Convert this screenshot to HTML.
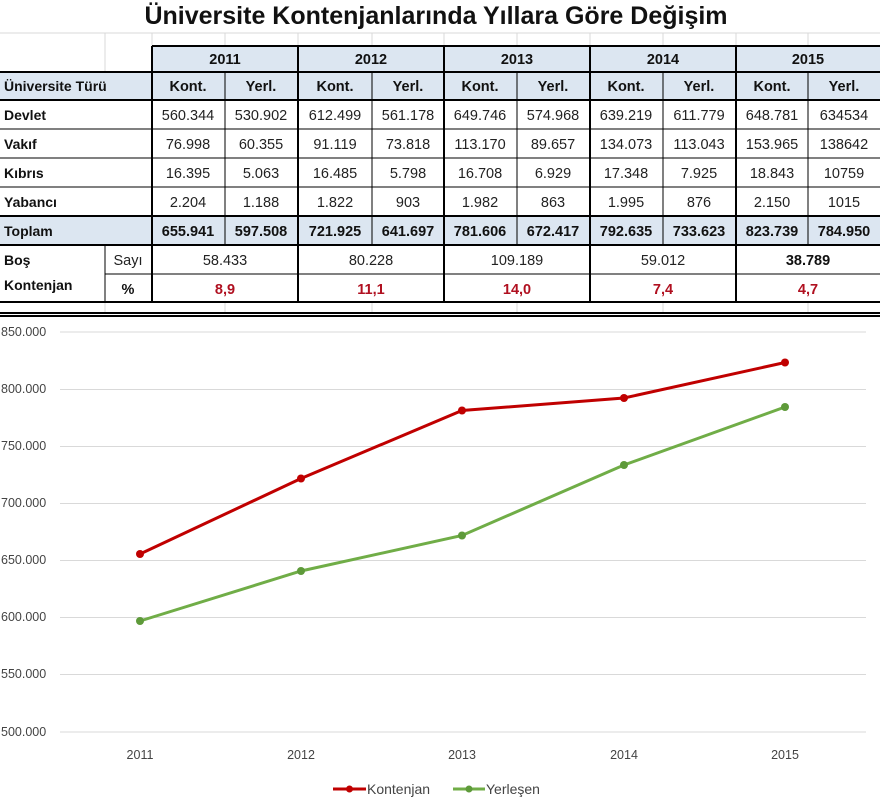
<!DOCTYPE html>
<html><head><meta charset="utf-8"><style>
html,body{margin:0;padding:0;background:#fff;width:880px;height:804px;overflow:hidden}
svg{display:block;font-family:"Liberation Sans",sans-serif}
.h{font-weight:bold;font-size:14px;fill:#111}
.c{font-size:14.5px;fill:#222;text-anchor:middle}
.b{font-weight:bold;font-size:14.5px;fill:#111;text-anchor:middle}
.r{font-weight:bold;font-size:14.5px;fill:#b01020;text-anchor:middle}
.ax{font-size:12.5px;fill:#444}
</style></head><body>
<svg width="880" height="804" viewBox="0 0 880 804">
<text x="436" y="24" text-anchor="middle" font-size="25" font-weight="bold" fill="#111">Üniversite Kontenjanlarında Yıllara Göre Değişim</text>
<g stroke="#d8d8d8" stroke-width="1">
<line x1="0" y1="33" x2="880" y2="33"/>
<line x1="105" y1="33" x2="105" y2="46"/><line x1="152" y1="33" x2="152" y2="46"/><line x1="225" y1="33" x2="225" y2="46"/><line x1="298" y1="33" x2="298" y2="46"/><line x1="372" y1="33" x2="372" y2="46"/><line x1="444" y1="33" x2="444" y2="46"/><line x1="517" y1="33" x2="517" y2="46"/><line x1="590" y1="33" x2="590" y2="46"/><line x1="663" y1="33" x2="663" y2="46"/><line x1="736" y1="33" x2="736" y2="46"/><line x1="808" y1="33" x2="808" y2="46"/>
<line x1="105" y1="46" x2="105" y2="72"/>
<line x1="105" y1="302" x2="105" y2="312"/><line x1="225" y1="302" x2="225" y2="312"/><line x1="372" y1="302" x2="372" y2="312"/><line x1="517" y1="302" x2="517" y2="312"/><line x1="663" y1="302" x2="663" y2="312"/><line x1="808" y1="302" x2="808" y2="312"/>
</g>
<rect x="152" y="46" width="728" height="54" fill="#dce6f1"/>
<rect x="0" y="72" width="152" height="28" fill="#dce6f1"/>
<rect x="0" y="216" width="880" height="29" fill="#dce6f1"/>
<g stroke="#000" stroke-width="1">
<line x1="225" y1="72" x2="225" y2="245"/><line x1="372" y1="72" x2="372" y2="245"/><line x1="517" y1="72" x2="517" y2="245"/><line x1="663" y1="72" x2="663" y2="245"/><line x1="808" y1="72" x2="808" y2="245"/>
<line x1="0" y1="129" x2="880" y2="129"/><line x1="0" y1="158" x2="880" y2="158"/><line x1="0" y1="187" x2="880" y2="187"/>
<line x1="105" y1="274" x2="880" y2="274"/><line x1="105" y1="245" x2="105" y2="302"/>
</g>
<g stroke="#000" stroke-width="2">
<line x1="152" y1="46" x2="880" y2="46"/><line x1="0" y1="72" x2="880" y2="72"/><line x1="0" y1="100" x2="880" y2="100"/>
<line x1="0" y1="216" x2="880" y2="216"/><line x1="0" y1="245" x2="880" y2="245"/><line x1="0" y1="302" x2="880" y2="302"/>
<line x1="152" y1="46" x2="152" y2="302"/><line x1="298" y1="46" x2="298" y2="302"/><line x1="444" y1="46" x2="444" y2="302"/><line x1="590" y1="46" x2="590" y2="302"/><line x1="736" y1="46" x2="736" y2="302"/>
<line x1="0" y1="313" x2="880" y2="313"/><line x1="0" y1="316" x2="880" y2="316"/>
</g>
<g class="b"><text x="225" y="64">2011</text><text x="371" y="64">2012</text><text x="517" y="64">2013</text><text x="663" y="64">2014</text><text x="808" y="64">2015</text>
<text x="188" y="91">Kont.</text><text x="261" y="91">Yerl.</text><text x="335" y="91">Kont.</text><text x="408" y="91">Yerl.</text><text x="480" y="91">Kont.</text><text x="553" y="91">Yerl.</text><text x="626" y="91">Kont.</text><text x="699" y="91">Yerl.</text><text x="772" y="91">Kont.</text><text x="844" y="91">Yerl.</text></g>
<g class="h"><text x="4" y="91">Üniversite Türü</text><text x="4" y="120">Devlet</text><text x="4" y="149">Vakıf</text><text x="4" y="178">Kıbrıs</text><text x="4" y="207">Yabancı</text><text x="4" y="236">Toplam</text><text x="4" y="265">Boş</text><text x="4" y="290">Kontenjan</text></g>
<g class="c">
<text x="188" y="120">560.344</text><text x="261" y="120">530.902</text><text x="335" y="120">612.499</text><text x="408" y="120">561.178</text><text x="480" y="120">649.746</text><text x="553" y="120">574.968</text><text x="626" y="120">639.219</text><text x="699" y="120">611.779</text><text x="772" y="120">648.781</text><text x="844" y="120">634534</text>
<text x="188" y="149">76.998</text><text x="261" y="149">60.355</text><text x="335" y="149">91.119</text><text x="408" y="149">73.818</text><text x="480" y="149">113.170</text><text x="553" y="149">89.657</text><text x="626" y="149">134.073</text><text x="699" y="149">113.043</text><text x="772" y="149">153.965</text><text x="844" y="149">138642</text>
<text x="188" y="178">16.395</text><text x="261" y="178">5.063</text><text x="335" y="178">16.485</text><text x="408" y="178">5.798</text><text x="480" y="178">16.708</text><text x="553" y="178">6.929</text><text x="626" y="178">17.348</text><text x="699" y="178">7.925</text><text x="772" y="178">18.843</text><text x="844" y="178">10759</text>
<text x="188" y="207">2.204</text><text x="261" y="207">1.188</text><text x="335" y="207">1.822</text><text x="408" y="207">903</text><text x="480" y="207">1.982</text><text x="553" y="207">863</text><text x="626" y="207">1.995</text><text x="699" y="207">876</text><text x="772" y="207">2.150</text><text x="844" y="207">1015</text>
<text x="128" y="265">Sayı</text>
<text x="225" y="265">58.433</text><text x="371" y="265">80.228</text><text x="517" y="265">109.189</text><text x="663" y="265">59.012</text>
</g>
<g class="b">
<text x="188" y="236">655.941</text><text x="261" y="236">597.508</text><text x="335" y="236">721.925</text><text x="408" y="236">641.697</text><text x="480" y="236">781.606</text><text x="553" y="236">672.417</text><text x="626" y="236">792.635</text><text x="699" y="236">733.623</text><text x="772" y="236">823.739</text><text x="844" y="236">784.950</text>
<text x="808" y="265">38.789</text><text x="128" y="294">%</text>
</g>
<g class="r"><text x="225" y="294">8,9</text><text x="371" y="294">11,1</text><text x="517" y="294">14,0</text><text x="663" y="294">7,4</text><text x="808" y="294">4,7</text></g>
<g stroke="#d9d9d9" stroke-width="1">
<line x1="60" y1="332" x2="866" y2="332"/><line x1="60" y1="389.5" x2="866" y2="389.5"/><line x1="60" y1="446.5" x2="866" y2="446.5"/><line x1="60" y1="503.5" x2="866" y2="503.5"/><line x1="60" y1="560.5" x2="866" y2="560.5"/><line x1="60" y1="617.5" x2="866" y2="617.5"/><line x1="60" y1="674.5" x2="866" y2="674.5"/><line x1="60" y1="732" x2="866" y2="732"/>
</g>
<g class="ax"><text x="1" y="336">850.000</text><text x="1" y="393">800.000</text><text x="1" y="450">750.000</text><text x="1" y="507">700.000</text><text x="1" y="564">650.000</text><text x="1" y="621">600.000</text><text x="1" y="678">550.000</text><text x="1" y="736">500.000</text></g>
<g class="ax" text-anchor="middle"><text x="140" y="759">2011</text><text x="301" y="759">2012</text><text x="462" y="759">2013</text><text x="624" y="759">2014</text><text x="785" y="759">2015</text></g>
<polyline points="140,554 301,478.5 462,410.5 624,398 785,362.5" fill="none" stroke="#c00000" stroke-width="3"/>
<polyline points="140,621 301,571 462,535.5 624,465 785,407" fill="none" stroke="#70ad47" stroke-width="3"/>
<g fill="#c00000"><circle cx="140" cy="554" r="4"/><circle cx="301" cy="478.5" r="4"/><circle cx="462" cy="410.5" r="4"/><circle cx="624" cy="398" r="4"/><circle cx="785" cy="362.5" r="4"/></g>
<g fill="#5e9a3a"><circle cx="140" cy="621" r="4"/><circle cx="301" cy="571" r="4"/><circle cx="462" cy="535.5" r="4"/><circle cx="624" cy="465" r="4"/><circle cx="785" cy="407" r="4"/></g>
<line x1="333" y1="789" x2="366" y2="789" stroke="#c00000" stroke-width="3"/><circle cx="349.5" cy="789" r="3.5" fill="#c00000"/>
<text x="367" y="794" font-size="14" fill="#444">Kontenjan</text>
<line x1="453" y1="789" x2="485" y2="789" stroke="#70ad47" stroke-width="3"/><circle cx="469" cy="789" r="3.5" fill="#5e9a3a"/>
<text x="486" y="794" font-size="14" fill="#444">Yerleşen</text>
</svg>
</body></html>
